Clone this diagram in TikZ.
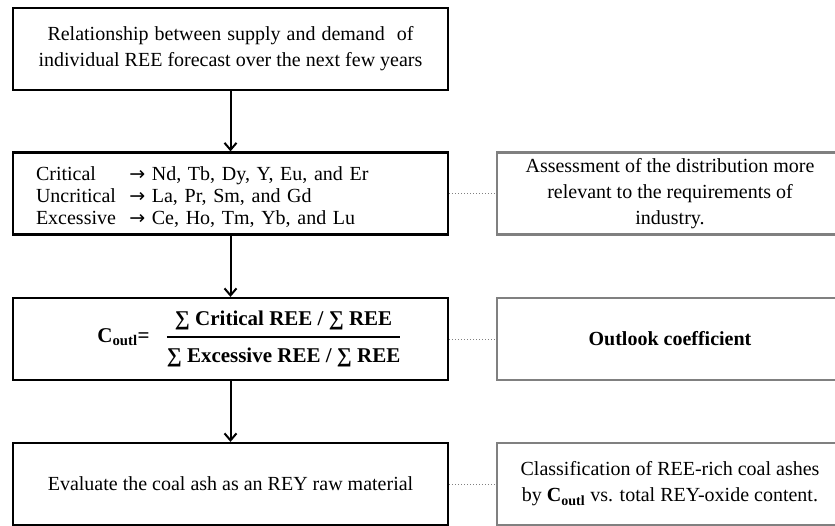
\documentclass[tikz,border=0pt]{standalone}
\usepackage{amsmath}
\usepackage{fontspec}
\setmainfont{Liberation Serif}
\newfontfamily\arrowfont{DejaVu Sans}
\usetikzlibrary{arrows.meta}

\begin{document}
\begin{tikzpicture}
		[x=1pt,y=-1pt,every node/.style={font=\fontsize{20}{26}\selectfont},
		flow/.style={draw,line width=2.2pt,minimum width=435pt,minimum height=82pt,align=center,inner sep=0pt},
		note/.style={draw=gray,line width=2.2pt,minimum width=346pt,minimum height=82pt,align=center,inner sep=0pt},
		edge/.style={->,>={Straight Barb[length=7pt,width=12pt]},line width=2pt},
		link/.style={gray,dotted,line width=1pt}]
		\useasboundingbox (0,0) rectangle (835,525);
		\clip (0,0) rectangle (835,525);
		\node[flow] (supply) at (230.5,49)
		{\makebox[366pt][s]{Relationship\hfill between\hfill supply\hfill and\hfill demand\hfill\hfill of}\\individual REE forecast over the next few years};
		\node[flow,text width=389pt,inner xsep=23pt,align=left,font=\fontsize{20}{22}\selectfont] (classes) at (230.5,193.5)
		{\raisebox{0pt}[\dimexpr\height+10pt][\depth]{\begin{tabular}{@{}l@{\ \ }l@{}}
		 Critical & {\arrowfont\fontsize{19}{22}\selectfont →} Nd, Tb, Dy, Y, Eu, and Er\\
		 Uncritical & {\arrowfont\fontsize{19}{22}\selectfont →} La, Pr, Sm, and Gd\\
		 Excessive & {\arrowfont\fontsize{19}{22}\selectfont →} Ce, Ho, Tm, Yb, and Lu
		 \end{tabular}}};
		\node[flow,font=\fontsize{21}{25}\selectfont] (coutl) at (230.5,339)
		{\hspace*{38pt}\textbf{C\textsubscript{outl}=}\hspace{16pt}$\genfrac{}{}{1.8pt}{0}{\textbf{∑ Critical REE / ∑ REE}\rule[-5pt]{0pt}{5pt}}{\rule{0pt}{19pt}\textbf{∑ Excessive REE / ∑ REE}}$};
		\node[flow] (evaluate) at (230.5,484) {Evaluate the coal ash as an REY raw material};
		\node[note] (assess) at (670,193.5) {Assessment of the distribution more\\relevant to the requirements of\\industry.};
		\node[note] (outlook) at (670,339) {\textbf{Outlook coefficient}};
		\node[note] (classify) at (670,484) {Classification of REE-rich coal ashes\\by \textbf{C\textsubscript{outl}} vs. total REY-oxide content.};
		
		\foreach \from/\to in {supply/classes,classes/coutl,coutl/evaluate}
		\draw[edge] (\from) -- (\to);
		\foreach \from/\to in {classes/assess,coutl/outlook,evaluate/classify}
		\draw[link] (\from) -- (\to);
		\end{tikzpicture}
\end{document}
